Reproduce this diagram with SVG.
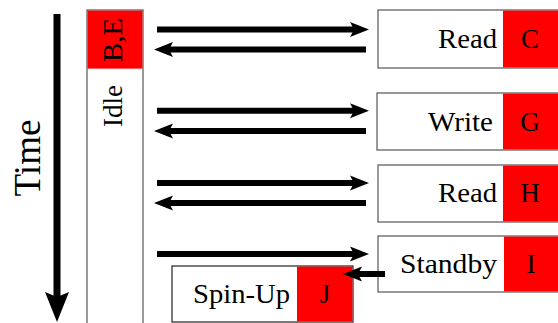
<svg xmlns="http://www.w3.org/2000/svg" width="558" height="323" viewBox="0 0 558 323">
<style>
.box{fill:#ffffff;stroke:#555555;stroke-width:1.2}
.red{fill:#ff0000;stroke:none}
.lbl{font-size:27px;fill:#000}
.conn{stroke:#000;stroke-width:6;fill:none}
</style>
<defs>
<marker id="ah" markerUnits="userSpaceOnUse" markerWidth="40" markerHeight="40" refX="0" refY="0" orient="auto" overflow="visible">
<path d="M15,0 L-4,-7.5 L0,0 L-4,7.5 Z" fill="#000"/>
</marker>
</defs>
<rect width="558" height="323" fill="#ffffff"/>
<g font-family="Liberation Serif, Times New Roman, serif">
<g id="time">
<line x1="57" y1="14" x2="57" y2="297" stroke="#000" stroke-width="7"/>
<path d="M57,322 L45,292 L57,297 L69,292 Z" fill="#000"/>
<text class="lbl" style="font-size:37px" text-anchor="middle" transform="translate(40,158) rotate(-90)" textLength="77" lengthAdjust="spacingAndGlyphs">Time</text>
</g>

<g id="idle">
<rect class="box" x="87" y="10" width="56" height="320"/>
<rect class="red" x="87.6" y="10.6" width="54.8" height="58"/>
<text class="lbl" text-anchor="middle" transform="translate(122,40) rotate(-90)" textLength="44" lengthAdjust="spacingAndGlyphs">B,E</text>
<text class="lbl" text-anchor="middle" transform="translate(122,106) rotate(-90)" textLength="42" lengthAdjust="spacingAndGlyphs">Idle</text>
</g>

<g id="read1">
<rect class="box" x="378" y="10" width="185" height="58"/>
<rect class="red" x="503" y="10.6" width="60" height="56.8"/>
<text class="lbl" x="497" y="48" text-anchor="end" textLength="59" lengthAdjust="spacingAndGlyphs">Read</text>
<text class="lbl" x="530" y="48" text-anchor="middle">C</text>
</g>

<g id="write">
<rect class="box" x="377" y="93" width="186" height="57"/>
<rect class="red" x="503" y="93.6" width="60" height="55.8"/>
<text class="lbl" x="493" y="130.5" text-anchor="end" textLength="65" lengthAdjust="spacingAndGlyphs">Write</text>
<text class="lbl" x="530" y="130.5" text-anchor="middle">G</text>
</g>

<g id="read2">
<rect class="box" x="378" y="165" width="185" height="57"/>
<rect class="red" x="503" y="165.6" width="60" height="55.8"/>
<text class="lbl" x="497" y="202" text-anchor="end" textLength="59" lengthAdjust="spacingAndGlyphs">Read</text>
<text class="lbl" x="530" y="202" text-anchor="middle">H</text>
</g>

<g id="standby">
<rect class="box" x="378" y="236" width="185" height="56"/>
<rect class="red" x="504" y="236.6" width="60" height="54.8"/>
<text class="lbl" x="497" y="273" text-anchor="end" textLength="97" lengthAdjust="spacingAndGlyphs">Standby</text>
<text class="lbl" x="531" y="273" text-anchor="middle">I</text>
</g>

<g id="spinup">
<rect class="box" x="172" y="266" width="181" height="56" style="stroke:#222"/>
<rect class="red" x="297" y="266.6" width="55.4" height="54.8"/>
<text class="lbl" x="290" y="303" text-anchor="end" textLength="97" lengthAdjust="spacingAndGlyphs">Spin-Up</text>
<text class="lbl" x="325" y="303" text-anchor="middle">J</text>
</g>
</g>
<g id="connectors">
<line class="conn" x1="157" y1="29.5" x2="354" y2="29.5" marker-end="url(#ah)"/>
<line class="conn" x1="366" y1="49.5" x2="169" y2="49.5" marker-end="url(#ah)"/>
<line class="conn" x1="157" y1="110.7" x2="354" y2="110.7" marker-end="url(#ah)"/>
<line class="conn" x1="366" y1="131" x2="169" y2="131" marker-end="url(#ah)"/>
<line class="conn" x1="157" y1="183" x2="354" y2="183" marker-end="url(#ah)"/>
<line class="conn" x1="366" y1="203" x2="169" y2="203" marker-end="url(#ah)"/>
<line class="conn" x1="157" y1="254" x2="354" y2="254" marker-end="url(#ah)"/>
<line class="conn" x1="385" y1="274" x2="358" y2="274" marker-end="url(#ah)"/>
</g>
</svg>
